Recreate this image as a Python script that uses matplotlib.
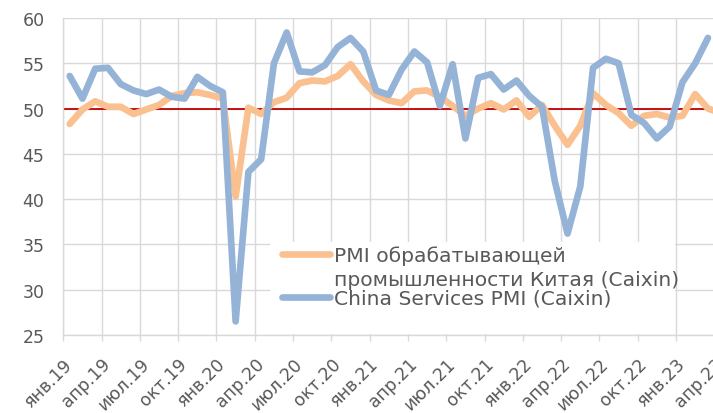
import matplotlib
matplotlib.use("Agg")
import matplotlib.pyplot as plt
from matplotlib.lines import Line2D
from matplotlib.patches import Rectangle

plt.rcParams['font.family'] = ['DejaVu Sans']

months = ['янв', 'фев', 'мар', 'апр', 'май', 'июн', 'июл', 'авг', 'сен', 'окт', 'ноя', 'дек']
years = ['19', '20', '21', '22', '23']
categories = [f"{m}.{y}" for y in years for m in months][:52]  # янв.19 .. апр.23

manufacturing = [48.3, 49.9, 50.8, 50.2, 50.2, 49.4, 49.9, 50.4, 51.4, 51.7, 51.8, 51.5,
                 51.1, 40.3, 50.1, 49.4, 50.7, 51.2, 52.8, 53.1, 53.0, 53.6, 54.9, 53.0,
                 51.5, 50.9, 50.6, 51.9, 52.0, 51.3, 50.3, 49.2, 50.0, 50.6, 49.9, 50.9,
                 49.1, 50.4, 48.1, 46.0, 48.1, 51.7, 50.4, 49.5, 48.1, 49.2, 49.4, 49.0,
                 49.2, 51.6, 50.0, 49.5]
services = [53.6, 51.1, 54.4, 54.5, 52.7, 52.0, 51.6, 52.1, 51.3, 51.1, 53.5, 52.5,
            51.8, 26.5, 43.0, 44.4, 55.0, 58.4, 54.1, 54.0, 54.8, 56.8, 57.8, 56.3,
            52.0, 51.5, 54.3, 56.3, 55.1, 50.3, 54.9, 46.7, 53.4, 53.8, 52.1, 53.1,
            51.4, 50.2, 42.0, 36.2, 41.4, 54.5, 55.5, 55.0, 49.3, 48.4, 46.7, 48.0,
            52.9, 55.0, 57.8]
label_manuf = "PMI обрабатывающей\nпромышленности Китая (Caixin)"
label_serv = "China Services PMI (Caixin)"
yticks = [25, 30, 35, 40, 45, 50, 55, 60]
threshold = 50

W, H = 713, 414
fig = plt.figure(figsize=(W / 100, H / 100), dpi=100)

def fx(x):
    return x / W

def fy(y):
    return 1 - y / H

left, right, top, bottom = 63.3, 727.1, 19.0, 336.0
ax = fig.add_axes([fx(left), fy(bottom), fx(right) - fx(left), (bottom - top) / H])

txt = '#595959'
grid = '#d9d9d9'
orange = '#fac090'
blue = '#95b3d7'
fs_tick = 12.5
fs_leg = 14.6

ax.axhline(threshold, color='#c00000', lw=1.3, zorder=2)
x_m = list(range(len(manufacturing)))
x_s = list(range(len(services)))
ax.plot(x_m, manufacturing, color=orange, lw=4.8, solid_capstyle='round', solid_joinstyle='round', zorder=3)
ax.plot(x_s, services, color=blue, lw=4.8, solid_capstyle='round', solid_joinstyle='round', zorder=4)

ax.set_xlim(-0.5, len(categories) - 0.5)
ax.set_ylim(25, 60)
ax.set_yticks(yticks)
ax.set_yticklabels([str(v) for v in yticks], fontsize=fs_tick, color=txt)
ax.tick_params(axis='y', length=0, pad=13.5)
ax.yaxis.grid(True, color=grid, lw=1.0, zorder=0)

label_pos = list(range(0, len(categories), 3))
ax.set_xticks(label_pos)
ax.set_xticklabels([categories[i] for i in label_pos], rotation=45, ha='right', va='center',
                   rotation_mode='anchor', fontsize=fs_tick, color=txt)
ax.tick_params(axis='x', which='major', length=0, pad=18.5)
ax.set_xticks([p - 0.5 for p in range(0, len(categories) + 1, 3)], minor=True)
ax.tick_params(axis='x', which='minor', length=4, color=grid, width=1.0)
ax.xaxis.grid(True, which='minor', color=grid, lw=1.0, zorder=0)
ax.set_axisbelow(True)

for s in ['top', 'right']:
    ax.spines[s].set_visible(False)
ax.spines['left'].set_color(grid)
ax.spines['bottom'].set_color(grid)
ax.spines['left'].set_linewidth(1.0)
ax.spines['bottom'].set_linewidth(1.0)

# legend box
fig.patches.append(Rectangle((fx(270), fy(335)), fx(675) - fx(270), (335 - 243) / H,
                             transform=fig.transFigure, facecolor='white', edgecolor='none', zorder=5))
fig.lines.append(Line2D([fx(282), fx(330)], [fy(254.5), fy(254.5)], transform=fig.transFigure,
                        color=orange, lw=4.8, solid_capstyle='round', zorder=6))
fig.lines.append(Line2D([fx(282), fx(330)], [fy(298), fy(298)], transform=fig.transFigure,
                        color=blue, lw=4.8, solid_capstyle='round', zorder=6))
l1, l2 = label_manuf.split('\n')
fig.text(fx(334), fy(261.7), l1, fontsize=fs_leg, color=txt, va='baseline', ha='left', zorder=7)
fig.text(fx(334), fy(286), l2, fontsize=fs_leg, color=txt, va='baseline', ha='left', zorder=7)
fig.text(fx(334), fy(304.3), label_serv, fontsize=fs_leg, color=txt, va='baseline', ha='left', zorder=7)

fig.savefig('out.png', dpi=100)
